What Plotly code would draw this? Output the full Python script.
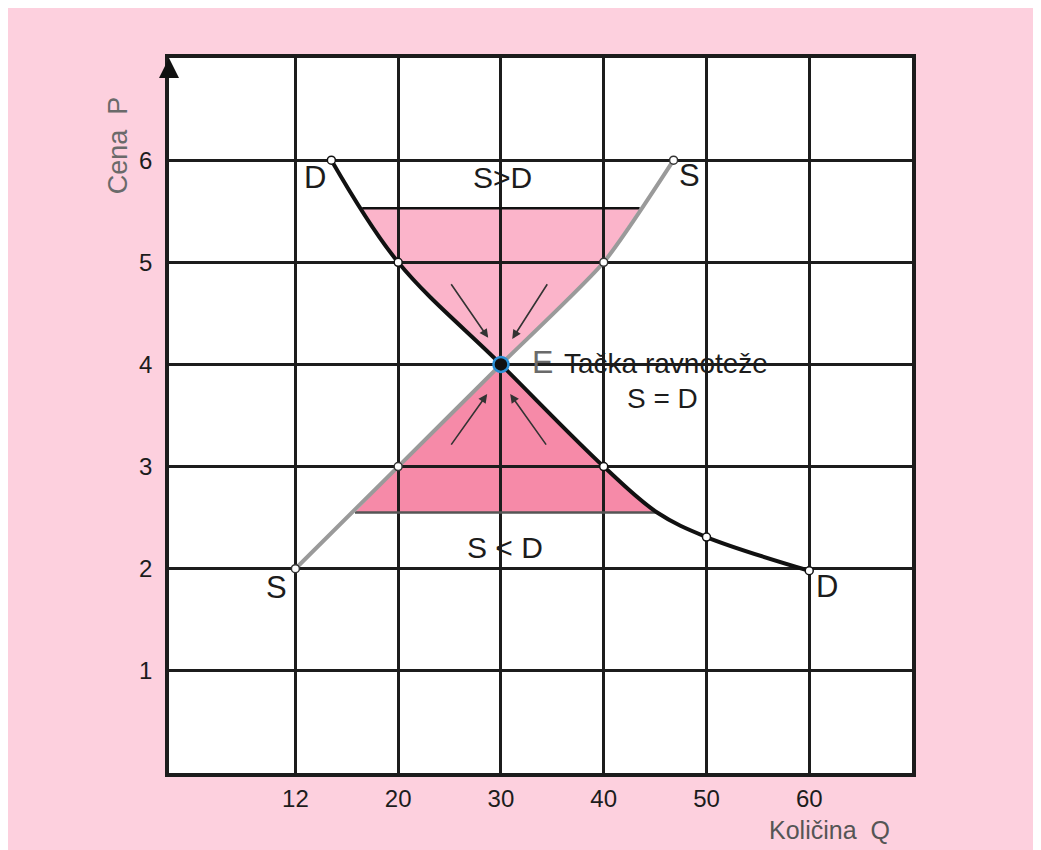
import plotly.graph_objects as go

# x positions on the drawn axis (label "12" sits one grid step left of 20)
q_ticks = [10, 20, 30, 40, 50, 60]
q_labels = ["12", "20", "30", "40", "50", "60"]
p_ticks = [1, 2, 3, 4, 5, 6]

# demand curve D
d_q = [13.5, 20, 30, 40, 45.2, 50, 60]
d_p = [6.0, 5.0, 4.0, 3.0, 2.55, 2.31, 1.98]
d_mark_q = [13.5, 20, 40, 50, 60]
d_mark_p = [6.0, 5.0, 3.0, 2.31, 1.98]

# supply curve S
s_q = [10, 20, 30, 40, 46.8]
s_p = [2.0, 3.0, 4.0, 5.0, 6.0]
s_mark_q = [10, 20, 40, 46.8]
s_mark_p = [2.0, 3.0, 5.0, 6.0]

# equilibrium E
e_q = [30]
e_p = [4]

# surplus area (S>D) and shortage area (S<D)
surplus_q = [16.5, 20, 30, 40, 43.5]
surplus_p = [5.53, 5.0, 4.0, 5.0, 5.53]
shortage_q = [15.8, 20, 30, 40, 42.68, 45.2]
shortage_p = [2.55, 3.0, 4.0, 3.0, 2.751, 2.55]

# small arrows pointing to E: (from_q, from_p, to_q, to_p)
arrows = [
    (25.06, 4.80, 28.76, 4.26),
    (34.6, 4.80, 31.1, 4.25),
    (25.06, 3.20, 28.66, 3.71),
    (34.5, 3.20, 30.9, 3.71),
]

FONT = "Liberation Sans, Arial, sans-serif"
PINK = "#FDD0DE"
INK = "#1c1c1c"


def poly_path(xs, ys):
    pts = ["%s,%s" % (x, y) for x, y in zip(xs, ys)]
    return "M " + " L ".join(pts) + " Z"


fig = go.Figure()

# horizontal edges of the two areas
fig.add_trace(go.Scatter(x=[surplus_q[0], surplus_q[-1]], y=[surplus_p[0], surplus_p[-1]],
                         mode="lines", line=dict(color="#111", width=2.5), hoverinfo="skip"))
fig.add_trace(go.Scatter(x=[shortage_q[0], shortage_q[-1]], y=[shortage_p[0], shortage_p[-1]],
                         mode="lines", line=dict(color="#555", width=2.5), hoverinfo="skip"))

# supply and demand curves
fig.add_trace(go.Scatter(x=s_q, y=s_p, mode="lines",
                         line=dict(color="#9a9a9a", width=4, shape="spline", smoothing=0.6), name="S"))
fig.add_trace(go.Scatter(x=d_q, y=d_p, mode="lines",
                         line=dict(color="#111", width=4, shape="spline", smoothing=1.0), name="D"))
fig.add_trace(go.Scatter(x=s_mark_q, y=s_mark_p, mode="markers",
                         marker=dict(size=8, color="white", line=dict(color="#333", width=1.5))))
fig.add_trace(go.Scatter(x=d_mark_q, y=d_mark_p, mode="markers",
                         marker=dict(size=8, color="white", line=dict(color="#111", width=1.5))))
fig.add_trace(go.Scatter(x=e_q, y=e_p, mode="markers",
                         marker=dict(size=15, color="#111", line=dict(color="#2a8fd6", width=2.5))))

shapes = [
    dict(type="path", path=poly_path(surplus_q, surplus_p), xref="x", yref="y",
         fillcolor="#FBB4CA", line=dict(width=0), layer="below"),
    dict(type="path", path=poly_path(shortage_q, shortage_p), xref="x", yref="y",
         fillcolor="#F68AA8", line=dict(width=0), layer="below"),
]

annotations = []
for fq, fp, tq, tp in arrows:
    annotations.append(dict(x=tq, y=tp, ax=fq, ay=fp, xref="x", yref="y", axref="x", ayref="y",
                            text="", showarrow=True, arrowhead=2, arrowsize=1.1, arrowwidth=1.6,
                            arrowcolor="#333"))

# axis arrows
annotations.append(dict(x=-2.3, y=7.0, ax=-2.3, ay=6.8, xref="x", yref="y", axref="x", ayref="y",
                        text="", showarrow=True, arrowhead=2, arrowsize=1.6, arrowwidth=2.5,
                        arrowcolor="#111"))
annotations.append(dict(x=70.0, y=-0.02, ax=68.6, ay=-0.09, xref="x", yref="y", axref="x", ayref="y",
                        text="", showarrow=True, arrowhead=2, arrowsize=1.2, arrowwidth=2,
                        arrowcolor="#111"))

labels = [
    ("D", 11.92, 5.83, 31, INK, "center"),
    ("S>D", 30.2, 5.83, 30, INK, "center"),
    ("S", 48.3, 5.85, 31, INK, "center"),
    ("E", 32.85, 4.02, 32, "#6a6a6a", "left"),
    ("Tačka ravnoteže", 35.9, 4.01, 28, INK, "left"),
    ("S = D", 45.7, 3.67, 28, INK, "center"),
    ("S < D", 30.4, 2.21, 30, INK, "center"),
    ("S", 8.13, 1.82, 31, INK, "center"),
    ("D", 61.75, 1.83, 31, INK, "center"),
]
for txt, x, y, size, color, anchor in labels:
    annotations.append(dict(x=x, y=y, xref="x", yref="y", text=txt, showarrow=False,
                            xanchor=anchor, yanchor="middle",
                            font=dict(family=FONT, size=size, color=color)))

# axis titles
annotations.append(dict(x=-0.0686, y=0.878, xref="paper", yref="paper", text="Cena  P",
                        textangle=-90, showarrow=False, xanchor="center", yanchor="middle",
                        font=dict(family=FONT, size=27, color="#6a6a6a")))
annotations.append(dict(x=0.8896, y=-0.0795, xref="paper", yref="paper", text="Količina  Q",
                        showarrow=False, xanchor="center", yanchor="middle",
                        font=dict(family=FONT, size=25, color="#555")))

fig.update_layout(
    width=1041, height=850,
    margin=dict(l=161, r=137, t=50, b=85),
    paper_bgcolor=PINK,
    plot_bgcolor="white",
    showlegend=False,
    shapes=shapes,
    annotations=annotations,
)
fig.update_xaxes(range=[-2.3, 70], tickvals=q_ticks, ticktext=q_labels,
                 showgrid=True, gridcolor="#1c1c1c", gridwidth=2.5, zeroline=False,
                 showline=True, linecolor="#1c1c1c", linewidth=3.5, mirror=True,
                 ticks="", ticklabelstandoff=1,
                 tickfont=dict(family=FONT, size=24, color=INK))
fig.update_yaxes(range=[0, 7], tickvals=p_ticks,
                 showgrid=True, gridcolor="#1c1c1c", gridwidth=2.5, zeroline=False,
                 showline=True, linecolor="#1c1c1c", linewidth=3.5, mirror=True,
                 ticks="", ticklabelstandoff=8,
                 tickfont=dict(family=FONT, size=24, color=INK))

fig.write_html("out.html")
